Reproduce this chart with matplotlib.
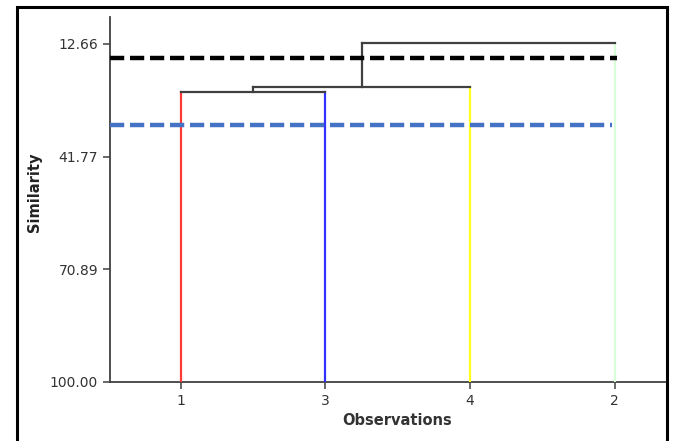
import matplotlib.pyplot as plt
from matplotlib.patches import Rectangle

# leaves in dendrogram order
leaf_labels = ["1", "3", "4", "2"]
leaf_colors = ["#ff3838", "#3030ff", "#ffff20", "#d8ffd8"]

# merges: (left node, right node, level); nodes >= 4 are earlier merges
merges = [(0, 1, 25.1), (4, 2, 23.9), (5, 3, 12.5)]

y_ticks = [12.66, 41.77, 70.89, 100.00]
cut_black = 16.2
cut_blue = 33.6

fig = plt.figure(figsize=(6.76, 4.41), dpi=100)
ax = fig.add_axes([0.1627, 0.1338, 0.821, 0.8277])

# outer frame
fig.patches.append(Rectangle((0.025, -0.05), 0.962, 1.035, transform=fig.transFigure,
                             fill=False, edgecolor="black", linewidth=2.2))

n = len(leaf_labels)
pos = {i: float(i) for i in range(n)}
level = {i: 100.0 for i in range(n)}

for k, (a, b, h) in enumerate(merges):
    node = n + k
    for c in (a, b):
        if c < n:
            ax.plot([pos[c], pos[c]], [100.0, h], color=leaf_colors[c], lw=1.6, zorder=3)
        else:
            ax.plot([pos[c], pos[c]], [level[c], h], color="#404040", lw=1.6, zorder=3)
    ax.plot([pos[a], pos[b]], [h, h], color="#404040", lw=1.6, zorder=3)
    pos[node] = (pos[a] + pos[b]) / 2
    level[node] = h

xmin, xmax = -0.491, 3.349
ax.hlines(cut_black, xmin, 3.02, colors="black", lw=3.2, linestyles=(0, (3.2, 1.3)), zorder=4)
ax.hlines(cut_blue, xmin, 2.98, colors="#4472c4", lw=3.2, linestyles=(0, (3.2, 1.3)), zorder=4)

ax.set_xlim(xmin, xmax)
ax.set_ylim(100.0, 5.68)
ax.set_yticks(y_ticks)
ax.set_yticklabels([f"{v:.2f}" for v in y_ticks])
ax.set_xticks(range(n))
ax.set_xticklabels(leaf_labels)

for s in ("top", "right"):
    ax.spines[s].set_visible(False)
for s in ("left", "bottom"):
    ax.spines[s].set_color("#404040")
    ax.spines[s].set_linewidth(1.3)
ax.tick_params(colors="#404040", labelcolor="#333333", labelsize=10, length=5, width=1.1)

ax.set_xlabel("Observations", fontsize=10.5, fontweight="bold", color="#333333")
ax.set_ylabel("Similarity", fontsize=10.5, fontweight="bold", color="#222222")
ax.xaxis.set_label_coords(0.517, -0.085)
ax.yaxis.set_label_coords(-0.123, 0.52)

fig.savefig("out.png", dpi=100)
